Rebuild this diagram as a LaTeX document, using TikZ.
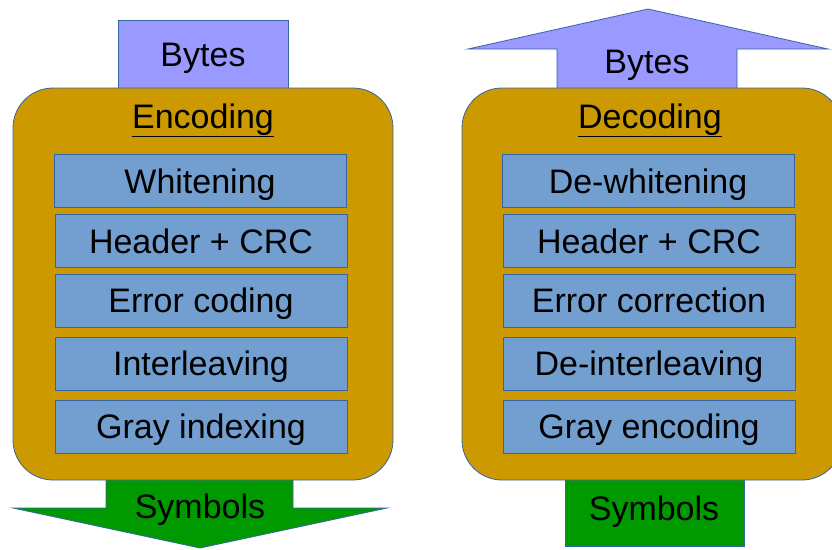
\documentclass[tikz,border=0pt]{standalone}
\usepackage{fontspec}
\setmainfont{Liberation Sans}
\usetikzlibrary{positioning}

\definecolor{bordblue}{HTML}{3465A4}
\definecolor{bytesfill}{HTML}{9999FF}
\definecolor{blockfill}{HTML}{CC9900}
\definecolor{stagefill}{HTML}{729FCF}
\definecolor{symfill}{HTML}{009900}

\newcommand\bigtxt{\fontsize{34}{40}\selectfont}

\tikzset{edge/.style={draw=bordblue, line width=0.8pt}}
\tikzset{blk/.style={edge, fill=blockfill, rectangle, rounded corners=40pt, minimum width=380pt, minimum height=392pt}}
\tikzset{stg/.style={edge, fill=stagefill, rectangle, minimum width=292pt, minimum height=53pt, inner sep=0pt, text height=24pt, text depth=0pt, font=\bigtxt}}
\tikzset{lbl/.style={inner sep=0pt, anchor=base, font=\bigtxt}}

\begin{document}
\begin{tikzpicture}[x=1pt,y=-1pt]
\useasboundingbox (0,0) rectangle (832,549);
% encoder side
\draw[edge, fill=bytesfill] (118,20) rectangle (288,92);
\draw[edge, fill=symfill] (106,476) -- (106,508) -- (13,508) -- (200,548)
  -- (387,508) -- (293,508) -- (293,476);
\node[blk] (enc) at (203,284) {};
\node[lbl] (encin) at (203,66) {Bytes};
\node[lbl] (encout) at (200,518) {Symbols};
\node[lbl] (enctitle) at (203,128) {\underline{Encoding}};
\node[stg] (white) at (200,181) {Whitening};
\node[stg] (hdr) at (201,241) {Header + CRC};
\node[stg] (ecc) at (201,300.5) {Error coding};
\node[stg] (intl) at (201,363.5) {Interleaving};
\node[stg] (gray) at (201,426.5) {Gray indexing};
% decoder side
\draw[edge, fill=bytesfill] (557,92) -- (557,49) -- (468,49) -- (648,9)
  -- (828,49) -- (737,49) -- (737,92);
\draw[edge, fill=symfill] (565,476) rectangle (744,546);
\node[blk] (dec) at (652,284) {};
\node[lbl] (decout) at (647,73) {Bytes};
\node[lbl] (decin) at (654,520) {Symbols};
\node[lbl] (dectitle) at (650,128) {\underline{Decoding}};
\node[stg] (dewhite) at (648,181) {De-whitening};
\node[stg] (dhdr) at (649,241) {Header + CRC};
\node[stg] (dcor) at (649,300.5) {Error correction};
\node[stg] (dintl) at (649,363.5) {De-interleaving};
\node[stg] (dgray) at (649,426.5) {Gray encoding};
\end{tikzpicture}
\end{document}
